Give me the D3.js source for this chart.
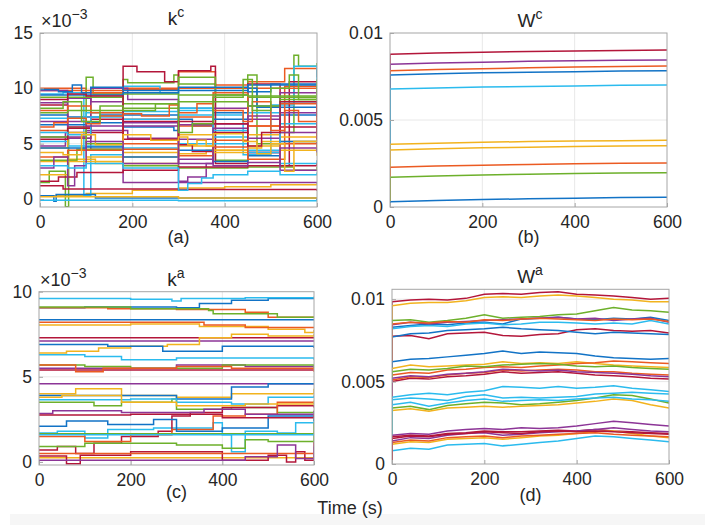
<!DOCTYPE html>
<html>
<head>
<meta charset="utf-8">
<script src="https://cdn.jsdelivr.net/npm/d3@7"></script>
<style>
  body { margin: 0; background: #fff; }
  text { font-family: 'Liberation Sans', Arial, sans-serif; fill: #262626; }
</style>
</head>
<body>
<div id="chart"></div>
<script>
// values are in units of 1e-3, times in seconds
const timeTicks = [0, 200, 400, 600]

// (a) k^c : step series, [time, value] breakpoints
const kcSeries = [
  [[0,7.6],[60,7.4],[130,7.6],[300,7.2],[330,6.6],[375,7.8],[450,8.4],[520,7.6],[600,8.2]],
  [[0,10],[100,9.6],[180,10],[300,11.5],[380,10.3],[450,10.6],[530,11.8],[600,11.0]],
  [[0,0.3],[100,0.5],[200,0.8],[300,1.0],[400,1.1],[500,1.3],[600,1.4]],
  [[0,4.8],[55,6],[110,4.5],[180,1.5],[600,1.4]],
  [[0,1.5],[20,2.5],[55,-0.7],[62,5.5],[100,11],[115,9.5],[180,10.8],[190,10.5],[290,11.2],[300,10.4],[380,3.5],[450,11.2],[470,5],[520,6],[550,13],[560,12],[600,12.3]],
  [[0,9.5],[50,9.6],[95,0.3],[110,4],[180,10.2],[260,9.6],[300,8],[375,7.6],[440,4],[500,8.5],[550,12],[600,9.6]],
  [[0,8.5],[60,6.5],[110,7.2],[180,12],[210,11.5],[270,10.6],[300,11.6],[370,12],[380,3.2],[450,10.4],[520,3],[540,10.6],[600,10.6]],
  [[0,0.3],[30,-0.2],[35,0.4],[120,0.1],[600,-0.1]],
  [[0,9.8],[180,9.9],[300,10],[600,10.2]],
  [[0,3.4],[60,3.6],[120,3.2],[180,3.8],[300,4.1],[360,4.4],[450,4.6],[480,5.2],[600,3.9]],
  [[0,5.6],[100,6.2],[190,5.5],[300,1.6],[320,2],[360,3.2],[375,8.2],[450,5.5],[520,7.8],[600,9.6]],
  [[0,3.5],[80,4.5],[180,3],[300,2.8],[450,2.9],[550,2.6],[600,2.9]],
  [[0,5.2],[60,4.8],[180,4.6],[300,5],[450,4.4],[520,3.2],[600,3.5]],
  [[0,1.6],[40,2],[80,2.4],[180,2.6],[300,2.9],[450,3],[600,3.2]],
  [[0,6.7],[100,6.9],[180,6.5],[290,6.2],[300,8.2],[375,7.2],[450,10],[470,8.3],[600,8.6]],
  [[0,6.2],[60,5.5],[110,9.6],[180,7.2],[300,6.6],[375,5.3],[450,6.6],[520,3.6],[530,10.2],[600,6]],
  [[0,4.6],[60,6],[100,3.8],[180,4.2],[300,4.8],[375,4.2],[450,4.8],[520,4.4],[600,4.8]],
  [[0,9.8],[60,5.5],[110,10],[190,9],[300,6.7],[375,6.8],[450,4.2],[520,9.6],[600,9.8]],
  [[0,5.6],[60,6.4],[100,5],[180,9.5],[300,11],[380,9.4],[450,9.2],[600,9.2]],
  [[0,7.3],[100,7.8],[180,7.2],[300,7.6],[375,6.2],[450,7.8],[520,6.8],[600,7.2]],
  [[0,5.4],[60,6.4],[110,6],[180,7],[300,4.9],[330,4.3],[375,6],[450,4.2],[520,6.5],[600,4.6]],
  [[0,4.6],[100,4.7],[180,3.8],[300,4.4],[375,3.4],[450,3.9],[520,5.2],[600,4.8]],
  [[0,8],[60,8.4],[110,7.8],[180,5],[300,7.4],[375,9.6],[450,6.6],[520,8.6],[600,8.2]],
  [[0,2.2],[60,3.4],[180,3.2],[300,5.8],[375,4.4],[450,5.8],[520,5.6],[600,6.1]],
  [[0,8.7],[60,9.1],[110,8.8],[180,6.6],[300,5.4],[375,6.8],[450,7.5],[520,2.6],[600,2.6]],
  [[0,9.2],[100,9.2],[180,8.6],[300,9.4],[450,9.3],[600,9.4]],
  [[0,6],[60,5.8],[110,7.4],[180,7.9],[300,8.2],[375,5.6],[450,4.2],[520,8.8],[600,8.9]],
  [[0,1.2],[50,0.9],[300,0.85],[600,0.75]],
  [[0,9.4],[110,9.4],[180,9.6],[300,9.8],[450,10.3],[600,10.2]],
  [[0,3.8],[60,4.4],[180,4.5],[300,3.9],[375,4.7],[450,3.6],[520,5],[600,4.4]],
  [[0,0.2],[300,0.1],[600,0.05]],
  [[0,7],[100,6.6],[180,6.9],[300,3.2],[375,6.4],[450,7.2],[520,6],[600,6.8]],
  [[0,7.8],[60,8],[180,8.2],[300,8.8],[450,8.4],[520,9],[600,9.1]],
  [[0,-0.1],[300,-0.15],[600,-0.2]],
  [[0,9],[60,9.5],[100,9.3],[180,5.4],[300,7],[375,6.8],[450,4.8],[480,6],[520,8.8],[600,5]],
  [[0,9.9],[40,9.7],[70,10.3],[90,9.6],[110,10.1],[180,9.8],[300,10.1],[450,9.7],[500,10.4],[600,10.3]],
  [[0,6.5],[30,6.9],[60,7.3],[100,6.8],[130,7.5],[180,7.7],[220,7.5],[280,8.5],[300,7.8],[340,8.6],[375,8.0],[440,7.0],[460,8.8],[500,6.2],[530,8.0],[560,7.0],[600,7.4]],
  [[0,4.2],[50,4.0],[90,5.8],[120,4.9],[180,5.8],[240,5.3],[300,5.6],[320,4.9],[340,5.3],[360,4.8],[375,5.9],[440,5.2],[470,4.1],[500,5.0],[530,2.5],[550,5.2],[600,5.4]],
  [[0,2.8],[30,3.8],[60,1.2],[75,3.0],[100,5.2],[180,3.2],[300,3.6],[375,3.0],[450,3.3],[520,4.6],[600,4.2]],
  [[0,8.2],[50,8.8],[90,7.0],[130,8.4],[180,8.0],[250,8.6],[300,6.0],[330,6.8],[375,9.2],[440,10.8],[460,8.0],[500,10.0],[540,11.2],[560,9.0],[600,10.8]],
  [[0,3.0],[60,2.8],[100,3.2],[180,2.8],[300,0.8],[320,1.4],[350,1.9],[375,2.2],[450,2.5],[520,2.2],[600,2.4]]
]

// (b) W^c : smooth series sampled every 100 s
const wcTimes = [0, 100, 200, 300, 400, 500, 600]
const wcSeries = [
  [8.78, 8.85, 8.9, 8.94, 8.97, 9.0, 9.02],
  [8.2, 8.27, 8.32, 8.37, 8.4, 8.43, 8.45],
  [7.83, 7.9, 7.95, 8.0, 8.04, 8.07, 8.1],
  [7.59, 7.66, 7.71, 7.75, 7.78, 7.81, 7.83],
  [6.78, 6.84, 6.89, 6.93, 6.96, 6.99, 7.01],
  [3.6, 3.67, 3.72, 3.76, 3.79, 3.81, 3.83],
  [3.28, 3.35, 3.4, 3.44, 3.47, 3.5, 3.52],
  [2.28, 2.35, 2.4, 2.44, 2.48, 2.51, 2.53],
  [1.71, 1.78, 1.84, 1.88, 1.92, 1.95, 1.97],
  [0.3, 0.37, 0.43, 0.47, 0.51, 0.54, 0.56]
]
const wcColors = ['red', 'purple', 'orange', 'blue', 'cyan', 'yellow', 'yellow', 'orange', 'green', 'blue']

// (c) k^a : step series
const kaSeries = [
  [[0,9.05],[100,9.1],[300,9.05],[350,9.3],[420,9.5],[500,9.6],[600,9.7]],
  [[0,9.05],[150,9],[300,8.95],[450,8.8],[500,8.5],[600,8.45]],
  [[0,8.05],[200,8.1],[350,7.95],[500,7.8],[580,7.6],[600,7.75]],
  [[0,7.1],[600,7.1]],
  [[0,9.1],[200,9.0],[370,8.9],[380,8.7],[450,8.7],[520,8.5],[600,8.55]],
  [[0,9.6],[200,9.55],[290,9.45],[310,9.6],[450,9.65],[600,9.6]],
  [[0,7.3],[600,7.3]],
  [[0,8.35],[600,8.35]],
  [[0,8.2],[200,8.2],[360,8.05],[450,7.9],[600,7.85]],
  [[0,6.4],[60,6.5],[130,6.7],[200,6.8],[280,6.9],[350,7.3],[420,7.5],[500,7.4],[600,7.5]],
  [[0,5.5],[150,5.5],[300,5.7],[450,5.6],[600,5.7]],
  [[0,5.7],[100,5.6],[200,5.5],[400,5.7],[600,5.5]],
  [[0,6.3],[100,6.2],[180,6.0],[300,6.1],[450,6.1],[600,6.0]],
  [[0,5.4],[600,5.4]],
  [[0,6.9],[150,6.8],[270,6.5],[400,6.8],[600,6.7]],
  [[0,5.7],[80,5.3],[140,5.5],[300,5.6],[420,5.5],[600,5.3]],
  [[0,4.0],[80,4.3],[180,3.9],[300,3.8],[420,4.0],[520,4.0],[600,4.3]],
  [[0,4.6],[600,4.6]],
  [[0,3.5],[120,3.3],[180,3.5],[290,3.7],[300,3.1],[420,3.2],[520,2.9],[600,3.0]],
  [[0,1.7],[40,1.8],[100,1.4],[150,1.9],[250,2.0],[380,2.3],[400,1.6],[420,0.6],[450,1.8],[520,1.7],[560,2.3],[600,2.5]],
  [[0,0.7],[40,0.9],[80,0.5],[120,1.1],[180,1.5],[260,1.8],[290,2.7],[330,2.9],[400,3.2],[520,3.3],[600,3.2]],
  [[0,3.9],[180,3.9],[300,3.7],[420,4.4],[500,4.6],[600,4.6]],
  [[0,1.5],[100,1.2],[200,1.6],[290,1.9],[380,2.7],[450,2.8],[520,3.5],[600,3.4]],
  [[0,0.25],[600,0.25]],
  [[0,2.85],[30,3],[180,2.9],[360,3.1],[450,2.8],[600,3.0]],
  [[0,1.65],[600,1.65]],
  [[0,3.65],[200,3.7],[300,3.5],[420,3.4],[500,3.8],[600,3.9]],
  [[0,0.35],[60,-0.1],[90,0.4],[200,0.6],[380,0.6],[400,0.1],[500,0.4],[540,0.0],[560,0.6],[580,0.1],[600,1.2]],
  [[0,2.1],[60,2.4],[150,2.2],[250,2.5],[300,1.8],[400,2.0],[500,2.7],[600,2.4]],
  [[0,0.5],[600,0.5]],
  [[0,3.8],[50,3.9],[180,3.5],[300,3.3],[450,3.4],[600,3.6]],
  [[0,0.1],[350,0.1],[450,0.3],[520,1.0],[560,0.2],[600,0.9]],
  [[0,0.9],[100,1.1],[300,1.0],[400,0.8],[450,1.3],[500,1.2],[600,2.3]],
  [[0,1.6],[600,1.6]],
  [[0,2.75],[200,2.8],[400,2.6],[600,2.8]]
]

// (d) W^a : sampled every 40 s
const waTimes = [0, 40, 80, 120, 160, 200, 240, 280, 320, 360, 400, 440, 480, 520, 560, 600]
const waSeries = [
  [9.85,9.95,10.0,9.95,10.05,10.3,10.35,10.3,10.4,10.45,10.3,10.25,10.2,10.1,10.0,10.05],
  [9.6,9.75,9.8,9.8,9.9,10.1,10.15,10.1,10.2,10.25,10.2,10.1,10.0,9.95,9.85,9.85],
  [8.7,8.75,8.6,8.7,8.85,9.05,8.85,8.9,8.95,9.05,9.1,9.3,9.5,9.35,9.3,9.2],
  [8.3,8.4,8.5,8.45,8.55,8.6,8.5,8.8,8.85,8.9,8.8,8.75,8.85,8.8,8.9,8.7],
  [8.45,8.6,8.5,8.6,8.65,8.7,8.75,8.8,8.85,8.9,8.8,8.85,8.7,8.8,8.85,8.6],
  [8.2,8.35,8.4,8.35,8.5,8.55,8.45,8.5,8.6,8.6,8.55,8.5,8.55,8.5,8.7,8.5],
  [7.75,7.8,7.6,7.9,7.95,8.0,7.8,7.75,7.85,7.9,8.15,8.2,8.1,8.05,8.1,7.95],
  [7.7,7.9,7.95,8.1,8.15,8.2,8.3,8.2,8.15,8.1,8.0,7.9,8.0,7.95,7.9,7.85],
  [8.5,8.6,8.55,8.65,8.6,8.75,8.7,8.8,8.85,8.8,8.75,8.7,8.8,8.75,8.8,8.65],
  [6.2,6.35,6.4,6.5,6.6,6.7,6.85,6.7,6.8,6.75,6.7,6.55,6.45,6.4,6.35,6.4],
  [5.8,6.0,5.9,5.95,6.0,6.05,6.2,6.1,6.15,6.1,6.2,6.1,6.0,5.95,5.9,5.85],
  [5.4,5.55,5.5,5.7,5.75,5.85,5.9,5.85,5.95,6.0,6.1,6.15,6.25,6.2,6.15,6.1],
  [5.6,5.75,5.7,5.8,5.95,5.9,6.0,6.05,6.1,6.05,5.95,5.9,5.95,5.85,5.8,5.75],
  [5.0,5.2,5.15,5.3,5.35,5.45,5.6,5.5,5.55,5.6,5.5,5.4,5.35,5.3,5.2,5.15],
  [5.1,5.3,5.25,5.4,5.5,5.55,5.7,5.65,5.7,5.75,5.7,5.6,5.6,5.5,5.45,5.4],
  [5.2,5.35,5.3,5.45,5.5,5.6,5.75,5.7,5.65,5.7,5.6,5.55,5.5,5.45,5.35,5.3],
  [4.05,4.2,4.3,4.2,4.35,4.45,4.7,4.65,4.6,4.7,4.6,4.65,4.75,4.6,4.5,4.4],
  [3.9,4.0,3.95,3.85,4.1,4.2,4.0,4.05,4.0,4.05,4.1,4.25,4.3,4.35,4.3,4.25],
  [3.4,3.5,3.3,3.55,3.65,3.75,3.7,3.6,3.65,3.75,3.85,4.0,4.2,4.15,3.95,3.7],
  [3.25,3.35,3.2,3.4,3.45,3.5,3.45,3.5,3.55,3.6,3.7,3.8,3.95,3.85,3.6,3.4],
  [3.6,3.75,3.5,3.7,3.85,3.95,3.8,3.85,3.9,3.85,3.95,4.0,4.05,3.95,3.9,3.8],
  [1.75,1.85,1.8,2.0,2.1,2.15,2.1,2.2,2.15,2.2,2.3,2.45,2.6,2.5,2.4,2.3],
  [1.65,1.75,1.7,1.85,1.9,2.0,1.95,1.95,2.0,2.05,2.0,2.1,2.0,1.95,1.9,1.85],
  [1.4,1.6,1.55,1.75,1.85,1.9,1.75,1.8,1.9,1.95,2.0,2.1,2.2,2.1,2.0,1.95],
  [1.2,1.35,1.3,1.5,1.55,1.6,1.5,1.6,1.7,1.75,1.85,1.95,2.0,1.85,1.7,1.6],
  [0.8,0.95,0.9,1.15,1.2,1.25,1.1,1.2,1.3,1.4,1.55,1.7,1.65,1.55,1.45,1.35],
  [1.3,1.45,1.4,1.6,1.65,1.7,1.6,1.7,1.75,1.8,1.85,1.9,1.8,1.75,1.7,1.65],
  [1.55,1.7,1.65,1.8,1.85,1.95,1.9,1.85,1.95,2.0,1.95,2.0,1.95,1.9,1.85,1.8]
]
const waColors = ['red', 'yellow', 'green', 'blue', 'purple', 'cyan', 'red', 'blue', 'orange', 'blue',
  'yellow', 'orange', 'green', 'red', 'orange', 'purple', 'cyan', 'cyan', 'green', 'yellow', 'cyan',
  'purple', 'red', 'purple', 'yellow', 'cyan', 'orange', 'red']

const palette = {
  blue: '#1273c6', orange: '#eb5a22', yellow: '#f2b31e', purple: '#8c3597',
  green: '#6db02b', cyan: '#2bbbee', red: '#b3163a'
}
const cycle = ['blue', 'orange', 'yellow', 'purple', 'green', 'cyan', 'red']

const svg = d3.select('#chart').append('svg')
  .attr('width', 710)
  .attr('height', 525)

svg.append('rect')
  .attr('x', 10).attr('y', 514).attr('width', 695).attr('height', 11)
  .attr('fill', '#f6f6f6')

function panel(opts) {
  const x = d3.scaleLinear().domain([0, 600]).range([opts.left, opts.right])
  const y = d3.scaleLinear().domain(opts.yDomain).range([opts.bottom, opts.top])
  const g = svg.append('g')

  // grid
  g.selectAll('.vgrid').data([200, 400]).enter().append('line')
    .attr('x1', d => x(d)).attr('x2', d => x(d))
    .attr('y1', opts.top).attr('y2', opts.bottom)
    .attr('stroke', '#e8e8e8')
  g.selectAll('.hgrid').data(opts.yTicks.filter(d => d > 0 && y(d) > opts.top + 1)).enter().append('line')
    .attr('x1', opts.left).attr('x2', opts.right)
    .attr('y1', d => y(d)).attr('y2', d => y(d))
    .attr('stroke', '#e8e8e8')

  const clipId = 'clip-' + opts.name
  svg.append('clipPath').attr('id', clipId).append('rect')
    .attr('x', opts.left).attr('y', opts.top)
    .attr('width', opts.right - opts.left).attr('height', opts.bottom - opts.top)

  const line = d3.line()
    .x(d => x(d[0]))
    .y(d => y(d[1]))
    .curve(opts.step ? d3.curveStepAfter : d3.curveLinear)

  g.append('g').attr('clip-path', `url(#${clipId})`)
    .selectAll('path').data(opts.series).enter().append('path')
    .attr('d', d => line(d.points))
    .attr('fill', 'none')
    .attr('stroke', d => palette[d.color])
    .attr('stroke-width', 1.5)

  // box
  g.append('rect')
    .attr('x', opts.left).attr('y', opts.top)
    .attr('width', opts.right - opts.left).attr('height', opts.bottom - opts.top)
    .attr('fill', 'none').attr('stroke', '#a6a6a6')

  // axes
  const xAxis = d3.axisBottom(x).tickValues(timeTicks).tickSize(-4).tickPadding(9)
  g.append('g').attr('transform', `translate(0,${opts.bottom})`).call(xAxis)
  const yAxis = d3.axisLeft(y).tickValues(opts.yTicks).tickSize(-4).tickPadding(7)
    .tickFormat(opts.yFormat)
  g.append('g').attr('transform', `translate(${opts.left},0)`).call(yAxis)
  g.selectAll('.domain').remove()
  g.selectAll('.tick line').attr('stroke', '#a6a6a6')
  g.selectAll('.tick text').attr('font-size', 17.5).attr('fill', '#262626')
    .attr('font-family', "'Liberation Sans', Arial, sans-serif")

  // title
  const t = g.append('text')
    .attr('x', opts.titleX).attr('y', opts.titleY)
    .attr('text-anchor', 'middle').attr('font-size', 19)
  t.append('tspan').text(opts.title[0])
  t.append('tspan').text(opts.title[1]).attr('dy', -8).attr('font-size', 14)

  g.append('text')
    .attr('x', (opts.left + opts.right) / 2).attr('y', opts.labelY)
    .attr('text-anchor', 'middle').attr('font-size', 18)
    .text(opts.label)

  if (opts.exponent) {
    const e = g.append('text')
      .attr('x', opts.left + 1).attr('y', opts.top - 6)
      .style('font-size', '18px')
    e.append('tspan').text('×10')
    e.append('tspan').text('−3').attr('dy', -8).style('font-size', '14px')
  }
}

const stepSeries = list => list.map((pts, i) => ({ points: pts, color: cycle[i % cycle.length] }))
const sampled = (times, list, colors) => list.map((vals, i) => ({
  points: [[0, 0]].concat(times.map((t, j) => [t, vals[j]])),
  color: colors[i]
}))

panel({
  name: 'a', left: 40, right: 317, top: 33, bottom: 207,
  yDomain: [-0.72, 15], yTicks: [0, 5, 10, 15], yFormat: d3.format('d'),
  series: stepSeries(kcSeries), step: true,
  title: ['k', 'c'], titleX: 176, titleY: 25, label: '(a)', labelY: 243, exponent: true
})
panel({
  name: 'b', left: 390, right: 667, top: 33, bottom: 207,
  yDomain: [0, 10], yTicks: [0, 5, 10], yFormat: d => d === 0 ? '0' : String(d / 1000),
  series: sampled(wcTimes, wcSeries, wcColors), step: false,
  title: ['W', 'c'], titleX: 530, titleY: 27, label: '(b)', labelY: 243
})
panel({
  name: 'c', left: 39, right: 314, top: 291.7, bottom: 465,
  yDomain: [-0.18, 10], yTicks: [0, 5, 10], yFormat: d3.format('d'),
  series: stepSeries(kaSeries), step: true,
  title: ['k', 'a'], titleX: 176, titleY: 286, label: '(c)', labelY: 498, exponent: true
})
panel({
  name: 'd', left: 392, right: 669, top: 289.3, bottom: 464,
  yDomain: [0, 10.6], yTicks: [0, 5, 10], yFormat: d => d === 0 ? '0' : String(d / 1000),
  series: sampled(waTimes, waSeries, waColors), step: false,
  title: ['W', 'a'], titleX: 530, titleY: 283, label: '(d)', labelY: 501
})

svg.append('text')
  .attr('x', 350).attr('y', 514)
  .attr('text-anchor', 'middle').attr('font-size', 18)
  .text('Time (s)')
</script>
</body>
</html>
